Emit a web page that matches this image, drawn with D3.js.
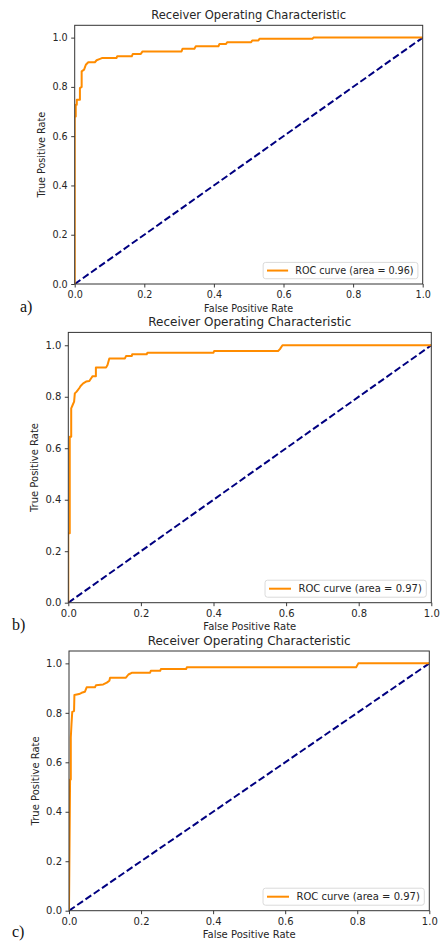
<!DOCTYPE html>
<html>
<head>
<meta charset="utf-8">
<script src="https://cdn.jsdelivr.net/npm/d3@7"></script>
<style>
  body { margin: 0; background: #fff; }
  svg { display: block; }
  text { font-family: 'DejaVu Sans', sans-serif; fill: #262626; }
  .panel-label { font-family: 'Liberation Serif', 'Times New Roman', serif; fill: #111; }
</style>
</head>
<body>
<svg id="svg-roc" width="440" height="942"></svg>
<script>
//////////////////////////////////////////////////////////////////////////////////////////
// Data
//////////////////////////////////////////////////////////////////////////////////////////

var fpr_a = [0, 0, 0.003, 0.003, 0.006, 0.006, 0.015, 0.015, 0.02, 0.02, 0.027, 0.032, 0.039, 0.058,
  0.063, 0.071, 0.078, 0.12, 0.122, 0.164, 0.167, 0.19, 0.195, 0.307, 0.31, 0.344, 0.348, 0.413,
  0.416, 0.435, 0.438, 0.507, 0.51, 0.528, 0.531, 0.683, 0.686, 1]
var tpr_a = [0, 0.68, 0.68, 0.728, 0.728, 0.748, 0.748, 0.795, 0.8, 0.863, 0.87, 0.89, 0.9, 0.9,
  0.908, 0.913, 0.917, 0.917, 0.924, 0.924, 0.934, 0.934, 0.944, 0.944, 0.955, 0.955, 0.965, 0.965,
  0.974, 0.974, 0.981, 0.981, 0.988, 0.988, 0.995, 0.995, 1, 1]

var fpr_b = [0, 0, 0.004, 0.004, 0.008, 0.008, 0.012, 0.016, 0.018, 0.023, 0.03, 0.034, 0.041, 0.049,
  0.058, 0.063, 0.067, 0.076, 0.076, 0.104, 0.108, 0.113, 0.156, 0.159, 0.175, 0.176, 0.216, 0.218,
  0.4, 0.402, 0.578, 0.583, 0.59, 1]
var tpr_b = [0, 0.27, 0.27, 0.645, 0.645, 0.755, 0.768, 0.781, 0.813, 0.82, 0.833, 0.842, 0.852, 0.859,
  0.861, 0.872, 0.88, 0.88, 0.914, 0.914, 0.923, 0.949, 0.949, 0.958, 0.958, 0.965, 0.965, 0.971,
  0.971, 0.978, 0.978, 0.985, 1, 1]

var fpr_c = [0, 0.003, 0.005, 0.005, 0.007, 0.009, 0.014, 0.015, 0.028, 0.035, 0.044, 0.049, 0.072,
  0.075, 0.095, 0.105, 0.112, 0.114, 0.158, 0.165, 0.174, 0.225, 0.227, 0.253, 0.255, 0.325, 0.327,
  0.797, 0.803, 1]
var tpr_c = [0, 0.53, 0.53, 0.7, 0.757, 0.804, 0.807, 0.872, 0.876, 0.881, 0.885, 0.903, 0.903,
  0.912, 0.915, 0.922, 0.93, 0.942, 0.942, 0.955, 0.962, 0.962, 0.97, 0.97, 0.977, 0.977, 0.984,
  0.984, 1, 1]

var roc_fprs = [fpr_a, fpr_b, fpr_c]
var roc_tprs = [tpr_a, tpr_b, tpr_c]
var auc_values = [0.96, 0.97, 0.97]
var panel_names = ['a)', 'b)', 'c)']
var tick_values = [0, 0.2, 0.4, 0.6, 0.8, 1.0]
var chance_line = [0, 1]

var chart_title = 'Receiver Operating Characteristic'
var x_label = 'False Positive Rate'
var y_label = 'True Positive Rate'

//////////////////////////////////////////////////////////////////////////////////////////
// Layout of the three stacked figures
//////////////////////////////////////////////////////////////////////////////////////////

var panel_boxes = [
  {left: 74.7, right: 422.7, top: 25.3, bottom: 284, scale: 0.96, label_x: 20, label_y: 312},
  {left: 68.3, right: 431.3, top: 332.4, bottom: 602.7, scale: 1, label_x: 12, label_y: 630},
  {left: 69, right: 429.3, top: 651, bottom: 910.7, scale: 1, label_x: 12, label_y: 937}
]

var roc_color = '#ff8c00'
var chance_color = '#000080'
var ink = '#262626'

var svg = d3.select('#svg-roc')

panel_boxes.forEach(function(box, i) { draw_panel(box, i) })

//////////////////////////////////////////////////////////////////////////////////////////
// One ROC figure
//////////////////////////////////////////////////////////////////////////////////////////

function draw_panel(box, i) {
  var s = box.scale
  var x = d3.scaleLinear().domain([0, 1]).range([box.left, box.right])
  var y = d3.scaleLinear().domain([0, 1.05]).range([box.bottom, box.top])

  var g = svg.append('g').attr('id', 'g-panel-' + i)

  // Clip for the lines
  g.append('clipPath')
    .attr('id', 'clip-' + i)
    .append('rect')
    .attr('x', box.left)
    .attr('y', box.top)
    .attr('width', box.right - box.left)
    .attr('height', box.bottom - box.top)

  var plot = g.append('g').attr('clip-path', 'url(#clip-' + i + ')')

  // Chance diagonal
  plot.append('path')
    .datum(chance_line)
    .attr('fill', 'none')
    .attr('stroke', chance_color)
    .attr('stroke-width', 2)
    .attr('stroke-dasharray', '7,3')
    .attr('d', d3.line().x(function(d) { return x(d) }).y(function(d) { return y(d) }))

  // ROC curve
  var points = d3.zip(roc_fprs[i], roc_tprs[i])
  plot.append('path')
    .datum(points)
    .attr('fill', 'none')
    .attr('stroke', roc_color)
    .attr('stroke-width', 2)
    .attr('stroke-linejoin', 'round')
    .attr('d', d3.line().x(function(d) { return x(d[0]) }).y(function(d) { return y(d[1]) }))

  // Axes
  var fmt = d3.format('.1f')
  var x_axis = g.append('g')
    .attr('transform', 'translate(0,' + box.bottom + ')')
    .call(d3.axisBottom(x).tickValues(tick_values).tickFormat(fmt)
      .tickSize(3.5).tickSizeOuter(0).tickPadding(4))
  var y_axis = g.append('g')
    .attr('transform', 'translate(' + box.left + ',0)')
    .call(d3.axisLeft(y).tickValues(tick_values).tickFormat(fmt)
      .tickSize(3.5).tickSizeOuter(0).tickPadding(3.5))

  ;[x_axis, y_axis].forEach(function(ax) {
    ax.attr('font-family', null).attr('font-size', null)
    ax.select('.domain').remove()
    ax.selectAll('line').attr('stroke', ink).attr('stroke-width', 0.9)
    ax.selectAll('text').attr('fill', ink).style('font-size', (10 * s) + 'px')
  })

  // Frame
  g.append('rect')
    .attr('x', box.left)
    .attr('y', box.top)
    .attr('width', box.right - box.left)
    .attr('height', box.bottom - box.top)
    .attr('fill', 'none')
    .attr('stroke', '#333')
    .attr('stroke-width', 1)

  var cx = (box.left + box.right) / 2
  var cy = (box.top + box.bottom) / 2

  // Title and axis labels
  g.append('text')
    .attr('x', cx)
    .attr('y', box.top - 6.5)
    .attr('text-anchor', 'middle')
    .style('font-size', (12 * s) + 'px')
    .text(chart_title)

  g.append('text')
    .attr('x', cx)
    .attr('y', box.bottom + 27.5)
    .attr('text-anchor', 'middle')
    .style('font-size', (10 * s) + 'px')
    .text(x_label)

  g.append('text')
    .attr('transform', 'translate(' + (box.left - 30) + ',' + cy + ') rotate(-90)')
    .attr('text-anchor', 'middle')
    .style('font-size', (10 * s) + 'px')
    .text(y_label)

  // Legend, lower right
  var legend = g.append('g')
  var legend_text = legend.append('text')
    .style('font-size', (10 * s) + 'px')
    .text('ROC curve (area = ' + auc_values[i].toFixed(2) + ')')
  var tw = legend_text.node().getComputedTextLength()
  var box_h = 17 * s
  var box_w = 4 * s + 22 * s + 7.5 * s + tw + 4.5 * s
  var bx = box.right - 5 * s - box_w
  var by = box.bottom - 5.5 * s - box_h

  legend.insert('rect', 'text')
    .attr('x', bx)
    .attr('y', by)
    .attr('width', box_w)
    .attr('height', box_h)
    .attr('rx', 2.5)
    .attr('fill', '#fff')
    .attr('fill-opacity', 0.8)
    .attr('stroke', '#d6d6d6')
    .attr('stroke-width', 0.9)

  legend.append('line')
    .attr('x1', bx + 4 * s)
    .attr('x2', bx + 26 * s)
    .attr('y1', by + box_h / 2)
    .attr('y2', by + box_h / 2)
    .attr('stroke', roc_color)
    .attr('stroke-width', 2)

  legend_text
    .attr('x', bx + 33.5 * s)
    .attr('y', by + box_h / 2 + 3.6 * s)

  // Panel letter
  svg.append('text')
    .attr('class', 'panel-label')
    .attr('x', box.label_x)
    .attr('y', box.label_y)
    .style('font-size', '16px')
    .text(panel_names[i])
}
</script>
</body>
</html>
